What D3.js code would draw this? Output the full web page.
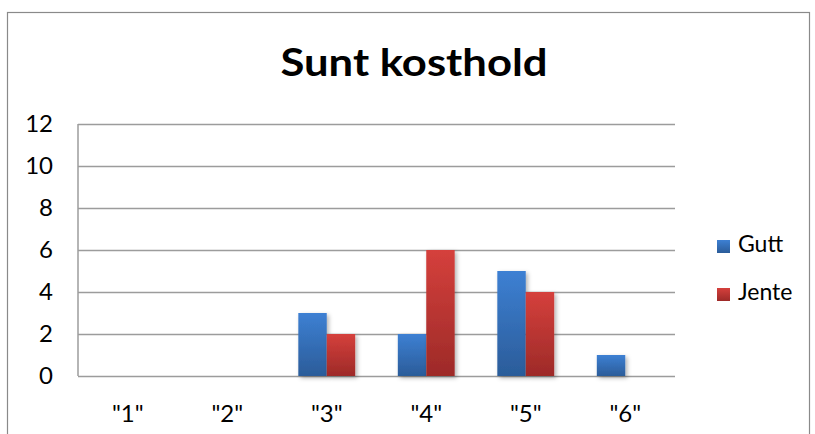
<!DOCTYPE html>
<html>
<head>
<meta charset="utf-8">
<script src="https://cdn.jsdelivr.net/npm/d3@7"></script>
<style>
  html, body { margin: 0; padding: 0; background: #fff; }
  svg { display: block; }
</style>
</head>
<body>
<script>
const categories = ['"1"', '"2"', '"3"', '"4"', '"5"', '"6"'];
const seriesNames = ["Gutt", "Jente"];
const gutt = [0, 0, 3, 2, 5, 1];
const jente = [0, 0, 2, 6, 4, 0];
const yTicks = [0, 2, 4, 6, 8, 10, 12];
const title = "Sunt kosthold";

const W = 815, H = 434;
const plot = { left: 78, right: 675, top: 124, bottom: 376 };
const colors = {
  Gutt: ["#3d80d3", "#2b5c99"],
  Jente: ["#d5403c", "#9d2a28"]
};
const FONT = "Lato, 'Open Sans', sans-serif";

const svg = d3.select("body").append("svg").attr("width", W).attr("height", H);
const defs = svg.append("defs");
seriesNames.forEach(name => {
  const g = defs.append("linearGradient").attr("id", "grad-" + name)
    .attr("x1", 0).attr("y1", 0).attr("x2", 0).attr("y2", 1);
  g.append("stop").attr("offset", "0%").attr("stop-color", colors[name][0]);
  g.append("stop").attr("offset", "100%").attr("stop-color", colors[name][1]);
});
const f = defs.append("filter").attr("id", "shadow")
  .attr("x", "-20%").attr("y", "-20%").attr("width", "160%").attr("height", "160%");
f.append("feDropShadow").attr("dx", 2).attr("dy", 2).attr("stdDeviation", 2)
  .attr("flood-color", "#000").attr("flood-opacity", 0.3);

// chart border
svg.append("rect").attr("x", 7.5).attr("y", 12.5).attr("width", 802).attr("height", 440)
  .attr("fill", "#fff").attr("stroke", "#8a8a8a").attr("stroke-width", 1.2);

// title
svg.append("text").attr("x", 414).attr("y", 76).attr("text-anchor", "middle")
  .attr("font-family", FONT).attr("font-weight", "bold")
  .attr("font-size", 38).attr("textLength", 267).attr("lengthAdjust", "spacingAndGlyphs")
  .attr("fill", "#000").text(title);

const x0 = d3.scaleBand().domain(categories).range([plot.left, plot.right]).paddingInner(0).paddingOuter(0);
// bar width = band/(2+1.5): outer padding of 0.75 bar each side
const x1 = d3.scaleBand().domain(seriesNames).range([0, x0.bandwidth()]).paddingInner(0).paddingOuter(0.75);
const y = d3.scaleLinear().domain([0, 12]).range([plot.bottom, plot.top]);

// gridlines + y labels
const yAxis = d3.axisLeft(y).tickValues(yTicks).tickSize(-(plot.right - plot.left)).tickFormat(d3.format("d")).tickPadding(25);
const ga = svg.append("g").attr("transform", `translate(${plot.left},0)`).call(yAxis);
ga.select(".domain").remove();
ga.selectAll(".tick line").attr("stroke", "#9c9c9c").attr("stroke-width", 1.5);
ga.selectAll(".tick text").attr("font-family", FONT).attr("font-size", 24).attr("fill", "#000");

// vertical axis line
svg.append("line").attr("x1", plot.left).attr("x2", plot.left).attr("y1", plot.top).attr("y2", plot.bottom)
  .attr("stroke", "#9c9c9c").attr("stroke-width", 1.5);

// x axis labels
const xAxis = d3.axisBottom(x0).tickSize(0).tickPadding(29);
const gx = svg.append("g").attr("transform", `translate(0,${plot.bottom})`).call(xAxis);
gx.select(".domain").remove();
gx.selectAll(".tick text").attr("font-family", FONT).attr("font-size", 24).attr("fill", "#000");

// bars
const data = categories.map((c, i) => ({ cat: c, values: [{ name: "Gutt", v: gutt[i] }, { name: "Jente", v: jente[i] }] }));
const groups = svg.append("g").selectAll("g").data(data).join("g")
  .attr("transform", d => `translate(${x0(d.cat)},0)`);
groups.selectAll("rect").data(d => d.values.filter(v => v.v > 0)).join("rect")
  .attr("x", d => x1(d.name))
  .attr("width", x1.bandwidth())
  .attr("y", d => y(d.v))
  .attr("height", d => y(0) - y(d.v))
  .attr("fill", d => `url(#grad-${d.name})`)
  .attr("filter", "url(#shadow)");

// legend
const legend = svg.append("g");
seriesNames.forEach((name, i) => {
  const ly = 246 + i * 48;
  legend.append("rect").attr("x", 717).attr("y", ly - 6).attr("width", 13).attr("height", 13)
    .attr("fill", `url(#grad-${name})`);
  legend.append("text").attr("x", 738).attr("y", ly + 6)
    .attr("font-family", FONT).attr("font-size", 23).attr("fill", "#000").text(name);
});
</script>
</body>
</html>
